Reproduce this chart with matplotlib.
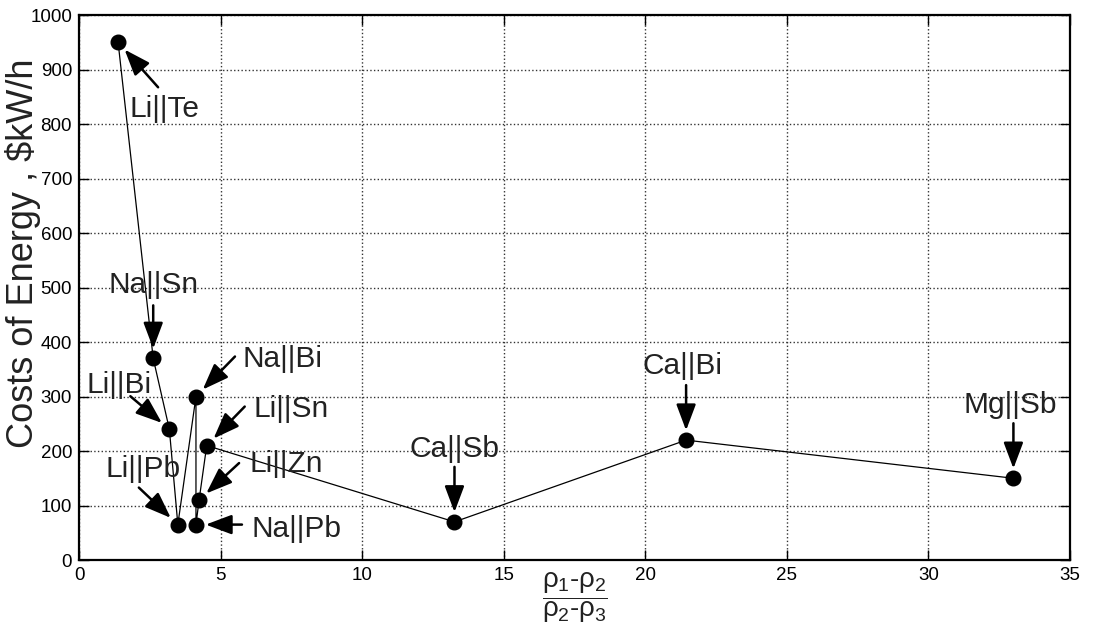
import matplotlib
matplotlib.use('Agg')
import matplotlib.pyplot as plt

plt.rcParams['font.family'] = ['Liberation Sans', 'DejaVu Sans']
plt.rcParams['mathtext.fontset'] = 'custom'
plt.rcParams['mathtext.rm'] = 'Liberation Sans'
plt.rcParams['mathtext.it'] = 'Liberation Sans'
plt.rcParams['mathtext.bf'] = 'Liberation Sans:bold'

# data, in the order the line connects them
names = ['Li||Te', 'Na||Sn', 'Li||Bi', 'Li||Pb', 'Na||Bi', 'Na||Pb',
         'Li||Zn', 'Li||Sn', 'Ca||Sb', 'Ca||Bi', 'Mg||Sb']
density_ratio = [1.38, 2.62, 3.19, 3.49, 4.13, 4.13, 4.24, 4.51, 13.26, 21.44, 33.0]
cost = [950, 370, 240, 65, 300, 65, 110, 210, 70, 220, 150]

# label baseline offset and arrow tail offset from each point, in pixels
label_offsets = [(46, -75), (0, 65), (-50, 36), (-35, 48), (87, 30), (101, -12),
                 (87, 28), (84, 29), (0, 65), (-4, 66), (-3, 65)]
tail_offsets = [(40, -45), (0, 53), (-39, 33), (-39, 37), (39, 40), (46, 0),
                (40, 37), (38, 39), (0, 55), (0, 55), (0, 55)]

fig = plt.figure(figsize=(10.93, 6.26), dpi=100)
ax = fig.add_axes([0.0723, 0.1054, 0.9067, 0.8706])

ax.plot(density_ratio, cost, color='k', lw=0.9, marker='o', markersize=10.5,
        markerfacecolor='k', markeredgecolor='k', zorder=3)

for name, x, y, lo, to in zip(names, density_ratio, cost, label_offsets, tail_offsets):
    ax.annotate('', xy=(x, y), xytext=to, textcoords='offset pixels',
                arrowprops=dict(arrowstyle='-|>,head_length=0.8,head_width=0.3',
                                color='k', lw=1.8, mutation_scale=20,
                                shrinkA=0, shrinkB=7))
    ax.annotate(name, xy=(x, y), xytext=lo, textcoords='offset pixels',
                ha='center', va='baseline', fontsize=21.5, color='#222222')

ax.set_xlim(0, 35)
ax.set_ylim(0, 1000)
ax.set_xticks(range(0, 36, 5))
ax.set_yticks(range(0, 1001, 100))
ax.tick_params(direction='in', top=True, right=True, length=7, width=1,
               labelsize=13.5, pad=5)
ax.grid(True, linestyle=':', color='#333333', lw=1)
for s in ax.spines.values():
    s.set_linewidth(1.6)

ax.set_ylabel(r'Costs of Energy , \$kW/h', fontsize=26, color='#222222')
ax.yaxis.set_label_coords(-0.038, 0.562)
ax.set_xlabel(r'$\dfrac{\rho_1\text{-}\rho_2}{\rho_2\text{-}\rho_3}$', fontsize=20,
              color='#222222')
ax.xaxis.set_label_coords(0.5, -0.018)

fig.savefig('out.png', dpi=100)
